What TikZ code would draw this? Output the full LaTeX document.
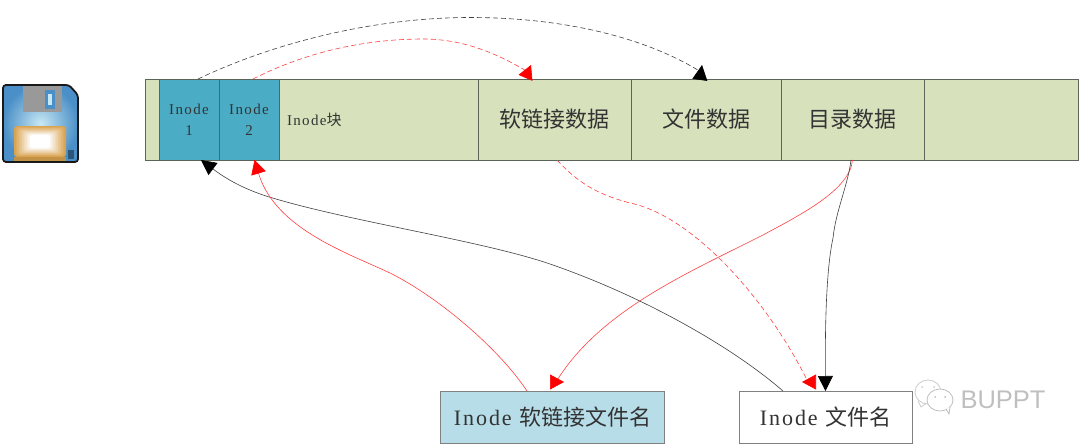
\documentclass[tikz,border=0pt]{standalone}
\usepackage{fontspec}
\newfontfamily\cjk{Noto Sans CJK SC}
\newfontfamily\latinfont{Liberation Serif}[LetterSpace=9]
\newfontfamily\markfont{Liberation Sans}
\usepackage{xcolor}
\usetikzlibrary{arrows.meta,positioning,calc}
\definecolor{cellgreen}{HTML}{D7E2BC}
\definecolor{cellblue}{HTML}{4BACC6}
\definecolor{namesblue}{HTML}{B7DDE8}
\definecolor{cellline}{HTML}{5A6458}
\definecolor{diskblue}{HTML}{4A8FC7}
\definecolor{disklight}{HTML}{C8E8F4}
\definecolor{disktan}{HTML}{D9A24E}

\begin{document}
\begin{tikzpicture}[
    x=1pt, y=-1pt,
    cell/.style={draw=cellline, line width=0.8pt, fill=cellgreen, minimum height=81pt, inner sep=0pt, outer sep=0pt, align=center, text=black!80, font=\latinfont\fontsize{15}{21}\selectfont},
    inodecell/.style={cell, fill=cellblue, minimum width=60pt},
    datacell/.style={cell, font=\cjk\fontsize{22}{26}\selectfont},
    namebox/.style={draw=black!50, line width=0.8pt, minimum height=52pt, inner sep=0pt, outer sep=0pt, text=black!80, font=\latinfont\fontsize{22}{26}\selectfont},
    arrow/.style={-{Triangle[length=15pt, width=15pt]}, line width=0.6pt, draw=black!75},
    redarrow/.style={draw=red!75, line width=0.6pt, -{Triangle[length=14pt, width=15pt, color=red]}},
    blackarrow/.style={arrow, -{Triangle[length=15pt, width=15pt, color=black]}},
    dasharrow/.style={dash pattern=on 5pt off 3pt}
]
\useasboundingbox (0,0) rectangle (1080,444);

% ===== DISK ICON =====
\path[draw=black!90, line width=1.8pt, rounded corners=3pt, inner color=disklight, outer color=diskblue]
    (3,85) -- (69,85) -- (78,95) -- (78,162) -- (3,162) -- cycle;
\fill[gray!80] (23,86) rectangle (62,112);
\fill[diskblue] (45,90) rectangle (55,109);
\fill[disklight] (48,94) rectangle (52,105);
\foreach \i in {0,...,10}{
    \pgfmathsetmacro{\mixval}{10*\i}
    \fill[white!\mixval!disktan, rounded corners=3pt] (14+1.6*\i,126+0.9*\i) rectangle (66-1.6*\i,157-0.9*\i);
}
\fill[disktan!90!black] (14,157) rectangle (66,161);
\fill[diskblue!60!black] (68,150) rectangle (74,159);

% ===== DISK BLOCKS =====
\node[cell, minimum width=14pt] (bootA) at (152,119.5) {};
\node[inodecell, right=0pt of bootA] (inodeA) {Inode\\1};
\node[inodecell, right=0pt of inodeA] (inodeB) {Inode\\2};
\node[cell, right=0pt of inodeB, minimum width=199pt, text width=183pt, align=left] (inodeBlk) {Inode{\cjk 块}};
\node[datacell, right=0pt of inodeBlk, minimum width=153pt] (linkData) {软链接数据};
\node[datacell, right=0pt of linkData, minimum width=150pt] (fileData) {文件数据};
\node[datacell, right=0pt of fileData, minimum width=143pt] (dirData) {目录数据};
\node[cell, right=0pt of dirData, minimum width=154pt] (freeBlk) {};

% ===== FILE NAMES =====
\node[namebox, fill=namesblue, minimum width=224pt] (linkName) at (552.5,417) {Inode {\cjk 软链接文件名}};
\node[namebox, fill=white, minimum width=173pt] (fileName) at (825.5,417) {Inode {\cjk 文件名}};

% ===== TOP ARROWS =====
\draw[blackarrow, dasharrow] ([xshift=9pt]inodeA.north) .. controls (280,40) and (380,17.5) .. (470,17.5)
    .. controls (570,17.5) and (650,40) .. ([xshift=-5pt, yshift=7pt]fileData.north) -- ([xshift=-4pt, yshift=14pt]fileData.north);
\draw[redarrow, dasharrow] ([xshift=4pt]inodeB.north) .. controls (310,50) and (370,39) .. (423,39)
    .. controls (465,39) and (500,55) .. ([xshift=-26.5pt, yshift=7pt]linkData.north) -- ([xshift=-23.5pt, yshift=14pt]linkData.north);

% ===== BOTTOM ARROWS =====
\draw[redarrow, dasharrow] ([xshift=2.5pt]linkData.south) .. controls (580,185) and (600,195) .. (630,203)
    .. controls (690,215) and (765,295) .. ([xshift=-17.5pt, yshift=9pt]fileName.north) -- ([xshift=-23.5pt, yshift=9pt]fileName.north);
\draw[redarrow] (dirData.south) .. controls (850,190) and (800,215) .. (763,235)
    .. controls (690,272) and (600,310) .. ([xshift=3.5pt, yshift=9pt]linkName.north) -- ([xshift=11.5pt, yshift=9pt]linkName.north);
\draw[blackarrow] ([xshift=-1.5pt]dirData.south) .. controls (848,185) and (836,210) .. (833,238)
    .. controls (826,270) and (825,330) .. (fileName.north);
\draw[blackarrow] ([xshift=-42.5pt]fileName.north) .. controls (730,345) and (640,295) .. (550,264)
    .. controls (480,240) and (340,220) .. (263,195) .. controls (240,187) and (225,178) .. ([xshift=12pt]inodeA.south);
\draw[redarrow] ([xshift=-25.5pt]linkName.north) .. controls (500,350) and (440,298) .. (390,273)
    .. controls (345,252) and (275,228) .. ([xshift=5.5pt]inodeB.south);

% ===== WATERMARK =====
\draw[gray!40, line width=0.8pt, fill=white] (918,401) -- (921,407) -- (927,403);
\draw[gray!40, line width=0.8pt, fill=white] (928,392) ellipse (13pt and 12pt);
\draw[gray!50, line width=0.8pt, fill=white] (940,400) ellipse (13pt and 11pt);
\draw[gray!50, line width=0.8pt, fill=white] (946,409) -- (949,414) -- (950,407);
\fill[gray!40] (922,387) circle (1pt) (934,387) circle (1pt);
\fill[gray!50] (935,397) circle (1pt) (945,397) circle (1pt);
\node[inner sep=0pt, text=gray!50, font=\markfont\fontsize{25.5}{28}\selectfont] (mark) at (1003,400) {BUPPT};

\end{tikzpicture}
\end{document}
